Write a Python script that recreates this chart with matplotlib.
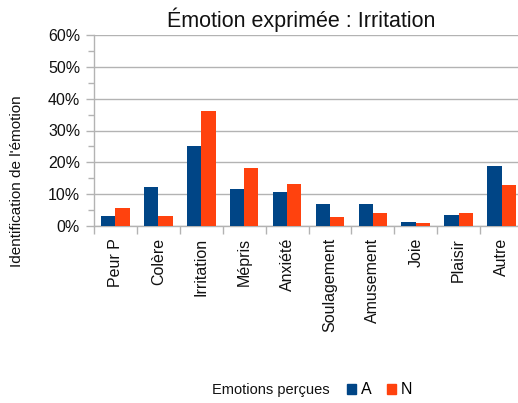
import matplotlib
matplotlib.use("Agg")
import matplotlib.pyplot as plt
import numpy as np
from matplotlib.patches import Patch
from matplotlib.ticker import MultipleLocator, PercentFormatter

categories = ["Peur P", "Colère", "Irritation", "Mépris", "Anxiété",
              "Soulagement", "Amusement", "Joie", "Plaisir", "Autre"]
series_a = [3.2, 12.4, 25.2, 11.6, 10.8, 6.8, 6.8, 1.3, 3.6, 19.0]
series_n = [5.7, 3.1, 36.0, 18.2, 13.2, 2.8, 4.0, 0.8, 4.0, 12.8]
series_names = ["A", "N"]
colors = ["#004586", "#ff420e"]

plt.rcParams['font.family'] = ['Liberation Sans', 'DejaVu Sans']

W, H = 518, 403
fig = plt.figure(figsize=(W / 100, H / 100), dpi=100)
ax = fig.add_axes([94 / W, (H - 226) / H, (523 - 94) / W, (226 - 35) / H])

x = np.arange(len(categories))
bw = 0.333
ax.bar(x - bw / 2, series_a, width=bw, color=colors[0], zorder=3)
ax.bar(x + bw / 2, series_n, width=bw, color=colors[1], zorder=3)

ax.set_xlim(-0.5, len(categories) - 0.5)
ax.set_ylim(0, 60)
ax.yaxis.set_major_locator(MultipleLocator(10))
ax.yaxis.set_minor_locator(MultipleLocator(5))
ax.yaxis.set_major_formatter(PercentFormatter(decimals=0))
ax.grid(axis='y', which='major', color='#b3b3b3', linewidth=1.0, zorder=0)

ax.set_xticks(np.arange(len(categories) + 1) - 0.5)
ax.set_xticklabels([])
ax.set_xticks(x, minor=True)
ax.set_xticklabels(categories, minor=True, rotation=90, va='top', ha='center')

ax.tick_params(axis='x', which='major', length=5.5, color='#b3b3b3', width=1)
ax.tick_params(axis='x', which='minor', length=0, pad=8.5, labelsize=11.5, labelcolor='#111111')
ax.tick_params(axis='y', which='major', length=6, color='#b3b3b3', width=1, pad=4,
               labelsize=11.5, labelcolor='#111111')
ax.tick_params(axis='y', which='minor', length=4.5, color='#b3b3b3', width=1)

for s in ['top', 'right']:
    ax.spines[s].set_visible(False)
for s in ['left', 'bottom']:
    ax.spines[s].set_color('#b3b3b3')
    ax.spines[s].set_linewidth(1)

fig.text(301 / W, (H - 27) / H, "Émotion exprimée : Irritation", ha='center',
         va='baseline', fontsize=15.5, color='#111111')
fig.text(17 / W, (H - 181) / H, "Identification de l'émotion", rotation=90,
         ha='center', va='center', fontsize=11, color='#111111')

fig.text(212 / W, (H - 390) / H, "Emotions perçues", ha='left', va='center',
         fontsize=10.5, color='#111111')
handles = [Patch(color=colors[0]), Patch(color=colors[1])]
fig.legend(handles, series_names, loc='center left',
           bbox_to_anchor=(347 / W, (H - 390) / H), ncol=2, frameon=False,
           handlelength=0.55, handleheight=0.55, handletextpad=0.3,
           columnspacing=1.0, fontsize=11.5, borderaxespad=0, borderpad=0)

fig.savefig("out.png", dpi=100)
